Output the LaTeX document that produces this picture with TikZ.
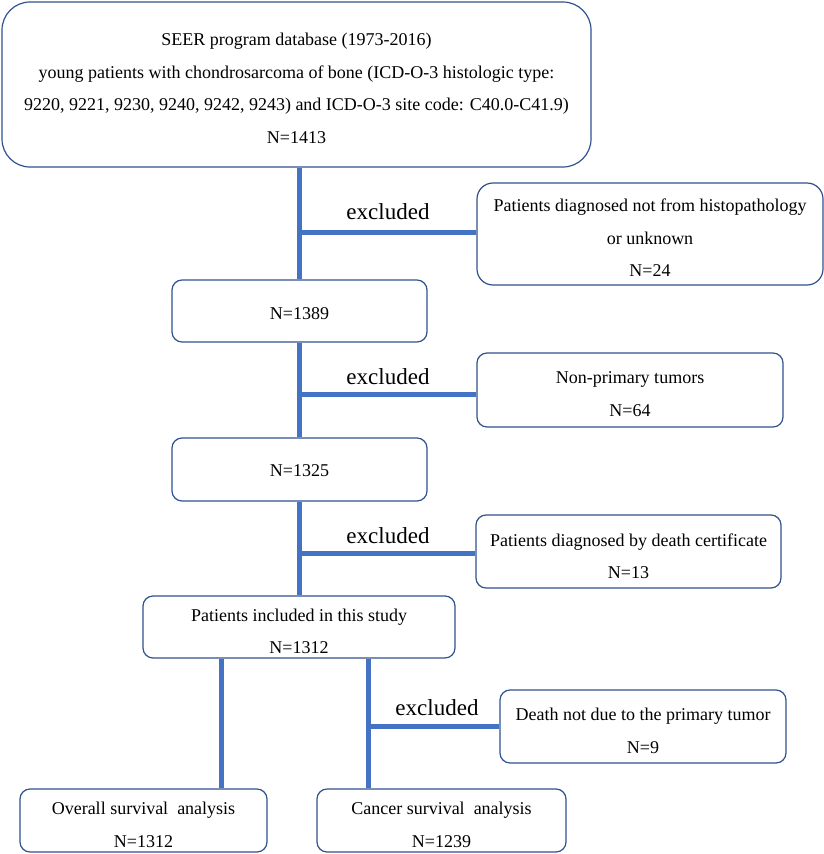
\documentclass[tikz,border=0pt]{standalone}
\usepackage{fontspec}
\setmainfont{Liberation Serif}
\definecolor{connc}{HTML}{4472C4}
\definecolor{boxc}{HTML}{2F528F}
\begin{document}
\begin{tikzpicture}[x=1pt,y=-1pt,
  box/.style={draw=boxc, line width=1.2pt, rounded corners=10pt, inner sep=0pt},
  txt/.style={align=center, inner sep=0pt, font=\fontsize{18}{32.5}\selectfont},
  link/.style={draw=connc, line width=5pt},
  exl/.style={font=\fontsize{23}{27}\selectfont, inner sep=0pt}]
\useasboundingbox (0,0) rectangle (824,854);
% boxes
\node[box, rounded corners=28pt, minimum width=589pt, minimum height=165pt] (A) at (296.5,84.5) {};
\node[box, rounded corners=16pt, minimum width=346pt, minimum height=102pt] (B) at (650,234) {};
\node[box, minimum width=255pt, minimum height=62pt] (C) at (299.5,311) {};
\node[box, minimum width=306pt, minimum height=74pt] (D) at (630,390) {};
\node[box, minimum width=255pt, minimum height=63pt] (E) at (299.5,469.5) {};
\node[box, minimum width=305pt, minimum height=73pt] (F) at (628.5,551.5) {};
\node[box, minimum width=312pt, minimum height=62pt] (G) at (299,627) {};
\node[box, minimum width=286pt, minimum height=73pt] (H) at (643,726.5) {};
\node[box, minimum width=247pt, minimum height=63pt] (I) at (143.5,820.5) {};
\node[box, minimum width=249pt, minimum height=63pt] (J) at (441.5,820.5) {};
% box texts
\node[txt] (At) at ([yshift=-4pt]A.center)
  {SEER program database (1973-2016)\\
   young patients with chondrosarcoma of bone (ICD-O-3 histologic type:\\
   9220, 9221, 9230, 9240, 9242, 9243) and ICD-O-3 site code: C40.0-C41.9)\\
   N=1413};
\node[txt] (Bt) at ([yshift=-4pt]B.center)
  {Patients diagnosed not from histopathology\\or unknown\\N=24};
\node[txt] (Ct) at ([yshift=-3pt]C.center) {N=1389};
\node[txt] (Dt) at ([yshift=-4pt]D.center) {Non-primary tumors\\N=64};
\node[txt] (Et) at ([yshift=-1.5pt]E.center) {N=1325};
\node[txt] (Ft) at ([yshift=-4.5pt]F.center) {Patients diagnosed by death certificate\\N=13};
\node[txt] (Gt) at ([yshift=-4.5pt]G.center) {Patients included in this study\\N=1312};
\node[txt] (Ht) at ([yshift=-4.5pt]H.center) {Death not due to the primary tumor\\N=9};
\node[txt] (It) at ([yshift=-4.5pt]I.center) {Overall survival\ \ analysis\\N=1312};
\node[txt] (Jt) at ([yshift=-4.5pt]J.center) {Cancer survival\ \ analysis\\N=1239};
% labels
\node[exl] (x1) at (388,212) {excluded};
\node[exl] (x2) at (388,377) {excluded};
\node[exl] (x3) at (388,536) {excluded};
\node[exl] (x4) at (437,708) {excluded};
% connectors
\path[link] (A.south -| C.north) -- (C.north);
\path[link] ([yshift=2pt]B.west -| C.north) -- ([yshift=2pt]B.west);
\path[link] (C.south) -- (E.north);
\path[link] ([yshift=-4pt]D.west -| C.north) -- ([yshift=-4pt]D.west);
\path[link] (E.south) -- (G.north -| E.south);
\path[link] ([yshift=-1.5pt]F.west -| E.south) -- ([yshift=-1.5pt]F.west);
\path[link] (G.south -| 221,0) -- (I.north -| 221,0);
\path[link] (G.south -| 368,0) -- (J.north -| 368,0);
\path[link] (H.west -| 368,0) -- (H.west);
\end{tikzpicture}
\end{document}
